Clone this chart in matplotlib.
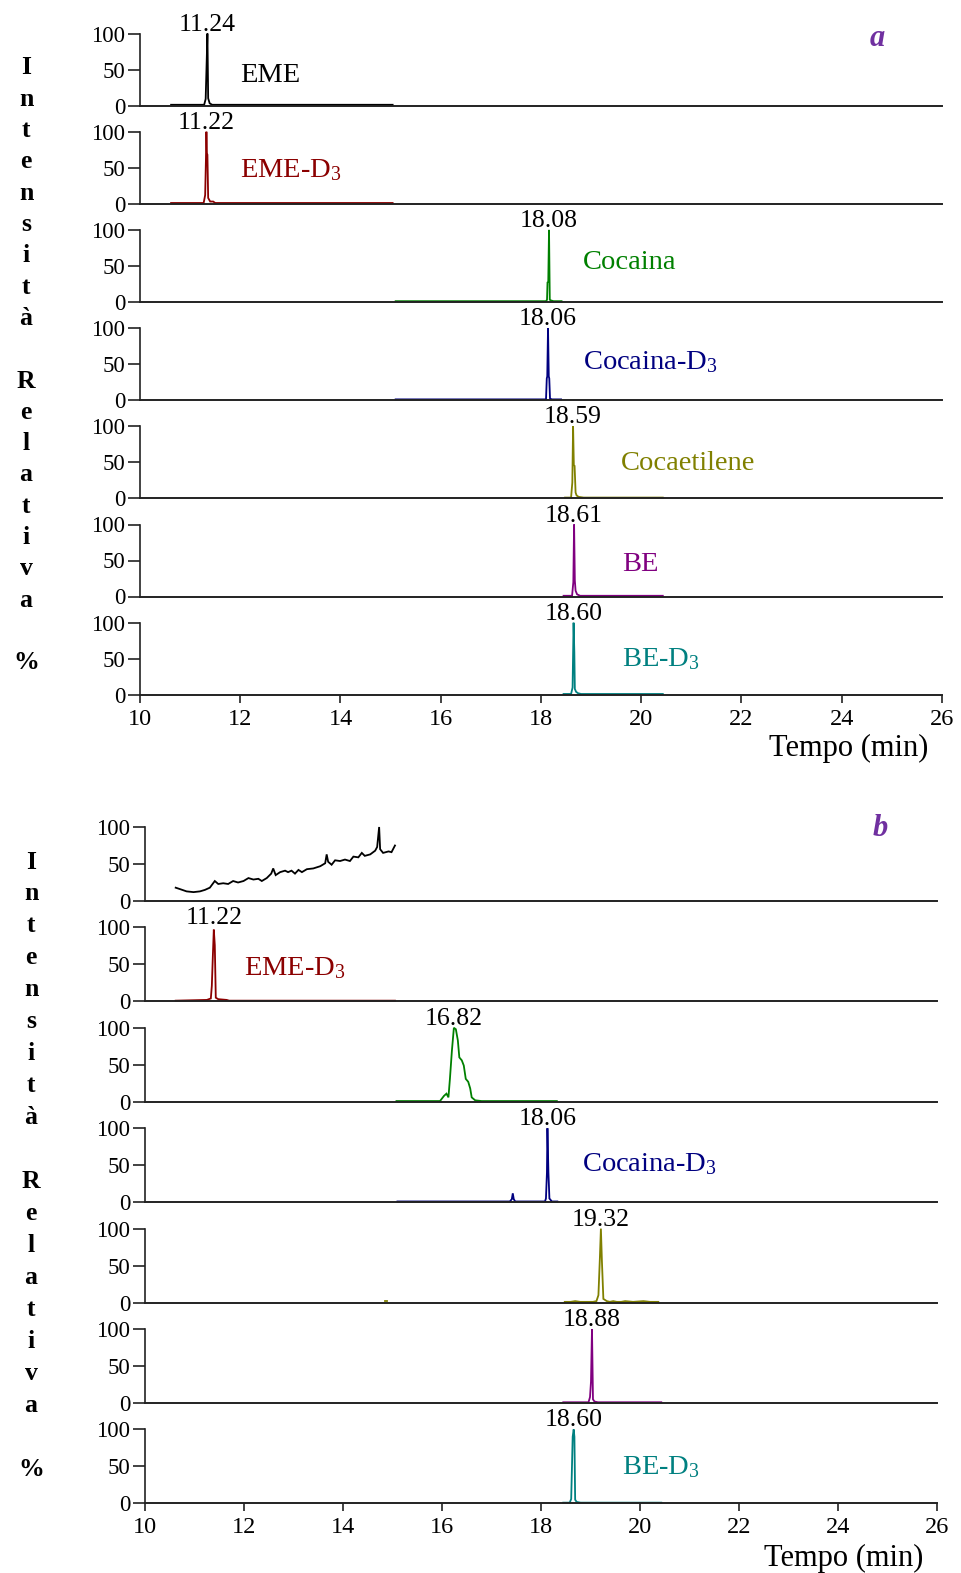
import matplotlib

matplotlib.use("Agg")
import matplotlib.pyplot as plt

plt.rcParams["font.family"] = ["Liberation Serif", "DejaVu Serif"]
plt.rcParams["mathtext.fontset"] = "custom"
plt.rcParams["mathtext.rm"] = "Liberation Serif"
plt.rcParams["mathtext.it"] = "Liberation Serif:italic"

# ------------------------------------------------------------------ dati (a)
A_EME_T = [10.62, 11.28, 11.31, 11.33, 11.345, 11.36, 11.39, 11.44, 15.04]
A_EME_Y = [1, 1, 9, 60, 100, 10, 3, 1, 1]
A_EMED3_T = [10.62, 11.27, 11.30, 11.315, 11.325, 11.335, 11.345, 11.36, 11.40, 11.46, 11.50, 15.04]
A_EMED3_Y = [1, 1, 12, 60, 100, 70, 68, 8, 3, 3, 1, 1]
A_COC_T = [15.10, 18.10, 18.12, 18.13, 18.145, 18.16, 18.175, 18.20, 18.25, 18.41]
A_COC_Y = [1, 1, 3, 27, 28, 100, 3, 2, 1, 1]
A_COCD3_T = [15.10, 18.10, 18.115, 18.125, 18.14, 18.155, 18.165, 18.18, 18.22, 18.40]
A_COCD3_Y = [1, 1, 30, 33, 100, 33, 30, 2, 1, 1]
A_CET_T = [18.48, 18.60, 18.625, 18.64, 18.655, 18.67, 18.69, 18.71, 18.75, 18.85, 20.43]
A_CET_Y = [1, 1, 22, 100, 46, 45, 8, 4, 2, 1, 1]
A_BE_T = [18.45, 18.62, 18.645, 18.66, 18.675, 18.69, 18.72, 18.78, 20.43]
A_BE_Y = [1, 1, 20, 100, 22, 8, 3, 1, 1]
A_BED3_T = [18.45, 18.60, 18.63, 18.65, 18.665, 18.675, 18.70, 18.74, 18.80, 20.43]
A_BED3_Y = [1, 1, 10, 100, 59, 8, 4, 2, 1, 1]

A_PEAKS = ["11.24", "11.22", "18.08", "18.06", "18.59", "18.61", "18.60"]
A_NAMES = ["EME", "EME-D$_3$", "Cocaina", "Cocaina-D$_3$", "Cocaetilene", "BE", "BE-D$_3$"]

# ------------------------------------------------------------------ dati (b)
B_EME_T = [10.62, 10.71, 10.84, 10.98, 11.11, 11.21, 11.31, 11.41, 11.48, 11.58,
           11.68, 11.78, 11.88, 11.99, 12.09, 12.19, 12.29, 12.36, 12.46, 12.55,
           12.59, 12.64, 12.73, 12.83, 12.89, 12.96, 13.03, 13.10, 13.17, 13.27,
           13.40, 13.54, 13.64, 13.67, 13.70, 13.77, 13.84, 13.94, 14.04, 14.14,
           14.21, 14.31, 14.38, 14.44, 14.55, 14.65, 14.69, 14.73, 14.75, 14.81,
           14.92, 14.98, 15.05]
B_EME_Y = [18, 16, 13, 12, 13, 15, 18, 27, 23, 24,
           23, 27, 25, 27, 31, 29, 30, 27, 31, 37,
           44, 35, 39, 41, 39, 41, 37, 42, 39, 43,
           44, 47, 51, 63, 53, 49, 55, 54, 56, 54,
           60, 59, 65, 61, 63, 68, 73, 100, 70, 65,
           67, 66, 75]
B_EMED3_T = [10.62, 11.25, 11.33, 11.35, 11.37, 11.39, 11.41, 11.43, 11.48, 11.65, 11.70, 15.05]
B_EMED3_Y = [1, 2, 4, 21, 60, 97, 76, 5, 3, 2, 1, 1]
B_COC_T = [15.08, 15.96, 16.04, 16.09, 16.13, 16.16, 16.20, 16.24, 16.28, 16.32,
           16.35, 16.40, 16.44, 16.48, 16.53, 16.57, 16.60, 16.67, 16.80, 18.32]
B_COC_Y = [1, 1, 8, 11, 6, 31, 69, 100, 98, 83,
           60, 56, 49, 31, 27, 18, 6, 2, 1, 1]
B_COCD3_T = [15.10, 17.37, 17.41, 17.43, 17.45, 17.48, 18.08, 18.10, 18.12, 18.13, 18.15, 18.17, 18.22, 18.33]
B_COCD3_Y = [1, 1, 4, 12, 4, 1, 1, 5, 40, 100, 40, 5, 1, 1]
B_CET_T = [18.48, 18.60, 18.69, 18.79, 19.05, 19.12, 19.16, 19.19, 19.21, 19.23, 19.26,
           19.33, 19.39, 19.46, 19.53, 19.62, 19.70, 19.86, 20.07, 20.20, 20.37]
B_CET_Y = [1, 1, 2, 1, 1, 2, 10, 61, 100, 57, 5,
           2, 1, 2, 1, 1, 2, 1, 2, 1, 1]
B_CET_DOT_T = [14.84, 14.88]
B_CET_DOT_Y = [2, 2]
B_BE_T = [18.45, 18.96, 18.99, 19.01, 19.03, 19.05, 19.08, 19.15, 20.43]
B_BE_Y = [1, 1, 8, 29, 100, 5, 2, 1, 1]
B_BED3_T = [18.45, 18.58, 18.61, 18.64, 18.66, 18.675, 18.69, 18.72, 18.80, 20.43]
B_BED3_Y = [1, 1, 6, 90, 100, 90, 5, 2, 1, 1]

B_PEAKS = [None, "11.22", "16.82", "18.06", "19.32", "18.88", "18.60"]
B_NAMES = [None, "EME-D$_3$", None, "Cocaina-D$_3$", None, None, "BE-D$_3$"]

COLORS = ["#000000", "#8B0000", "#008000", "#000080", "#808000", "#800080", "#008080"]
X_TICKS = [10, 12, 14, 16, 18, 20, 22, 24, 26]
Y_TICKS = [0, 50, 100]
YLABEL = "Intensità Relativa %"

# ------------------------------------------------------------------ layout
W, H = 962, 1573
fig = plt.figure(figsize=(W / 100, H / 100), dpi=100)
AX_COLOR = "#222222"


def add_row(left, right, top, h):
    return fig.add_axes([left / W, 1 - (top + h) / H, (right - left) / W, h / H])


def draw_panel(traces, peaks, names, name_xy, left, right, top0, pitch, h,
               ylab_x, ylab_y0, ylab_step, tag, tag_xy, tempo_xy):
    n = len(traces)
    for i, segs in enumerate(traces):
        ax = add_row(left, right, top0 + i * pitch, h)
        ax.set_xlim(10, 26)
        ax.set_ylim(0, 100)
        ax.patch.set_alpha(0)
        for s in ("top", "right"):
            ax.spines[s].set_visible(False)
        ax.spines["left"].set_color(AX_COLOR)
        ax.spines["left"].set_linewidth(1.2)
        ax.spines["bottom"].set_color(AX_COLOR)
        ax.spines["bottom"].set_linewidth(1.4)
        ax.set_yticks(Y_TICKS)
        ax.set_yticklabels([str(v) for v in Y_TICKS])
        ax.tick_params(axis="y", length=9, width=1.2, pad=1.5, labelsize=16.5, color=AX_COLOR)
        if i == n - 1:
            ax.set_xticks(X_TICKS)
            ax.set_xticklabels([str(v) for v in X_TICKS])
            ax.tick_params(axis="x", length=6, width=1.2, pad=4, labelsize=17.5, color=AX_COLOR)
        else:
            ax.set_xticks([])

        color = COLORS[i]
        for t, y in segs:
            ax.plot(t, y, color=color, lw=1.3, clip_on=False, solid_joinstyle="miter")

        if peaks[i] is not None:
            t, y = segs[0]
            k = max(range(len(y)), key=lambda j: y[j])
            ax.text(t[k], 104, peaks[i], ha="center", va="baseline", fontsize=18.5)
        if names[i] is not None:
            nx, ny = name_xy[i]
            ax.text(nx, ny, names[i], ha="left", va="center", fontsize=20.5, color=color)

    for j, ch in enumerate(YLABEL):
        if ch == " ":
            continue
        fig.text(ylab_x / W, 1 - (ylab_y0 + j * ylab_step) / H, ch, ha="center", va="center",
                 fontsize=18.5, fontweight="bold")
    fig.text(tag_xy[0] / W, 1 - tag_xy[1] / H, tag, ha="center", va="center", fontsize=22,
             style="italic", fontweight="bold", color="#7030A0")
    fig.text(tempo_xy[0] / W, 1 - tempo_xy[1] / H, "Tempo (min)", ha="right", va="center",
             fontsize=22)


A_TRACES = [
    [(A_EME_T, A_EME_Y)],
    [(A_EMED3_T, A_EMED3_Y)],
    [(A_COC_T, A_COC_Y)],
    [(A_COCD3_T, A_COCD3_Y)],
    [(A_CET_T, A_CET_Y)],
    [(A_BE_T, A_BE_Y)],
    [(A_BED3_T, A_BED3_Y)],
]
B_TRACES = [
    [(B_EME_T, B_EME_Y)],
    [(B_EMED3_T, B_EMED3_Y)],
    [(B_COC_T, B_COC_Y)],
    [(B_COCD3_T, B_COCD3_Y)],
    [(B_CET_T, B_CET_Y), (B_CET_DOT_T, B_CET_DOT_Y)],
    [(B_BE_T, B_BE_Y)],
    [(B_BED3_T, B_BED3_Y)],
]

A_NAME_XY = [(11.99, 41), (11.99, 46), (18.84, 55), (18.84, 53), (19.60, 48), (19.62, 44), (19.62, 49)]
B_NAME_XY = [None, (11.99, 45), None, (18.82, 52), None, None, (19.63, 49)]

draw_panel(A_TRACES, A_PEAKS, A_NAMES, A_NAME_XY, left=140, right=942, top0=33.5, pitch=98.2, h=72,
           ylab_x=26, ylab_y0=68, ylab_step=31.3, tag="a", tag_xy=(877, 38), tempo_xy=(928, 748))
draw_panel(B_TRACES, B_PEAKS, B_NAMES, B_NAME_XY, left=145, right=937, top0=827, pitch=100.4, h=74,
           ylab_x=31, ylab_y0=862, ylab_step=32.0, tag="b", tag_xy=(880, 828), tempo_xy=(923, 1558))

fig.savefig("out.png", dpi=100)
